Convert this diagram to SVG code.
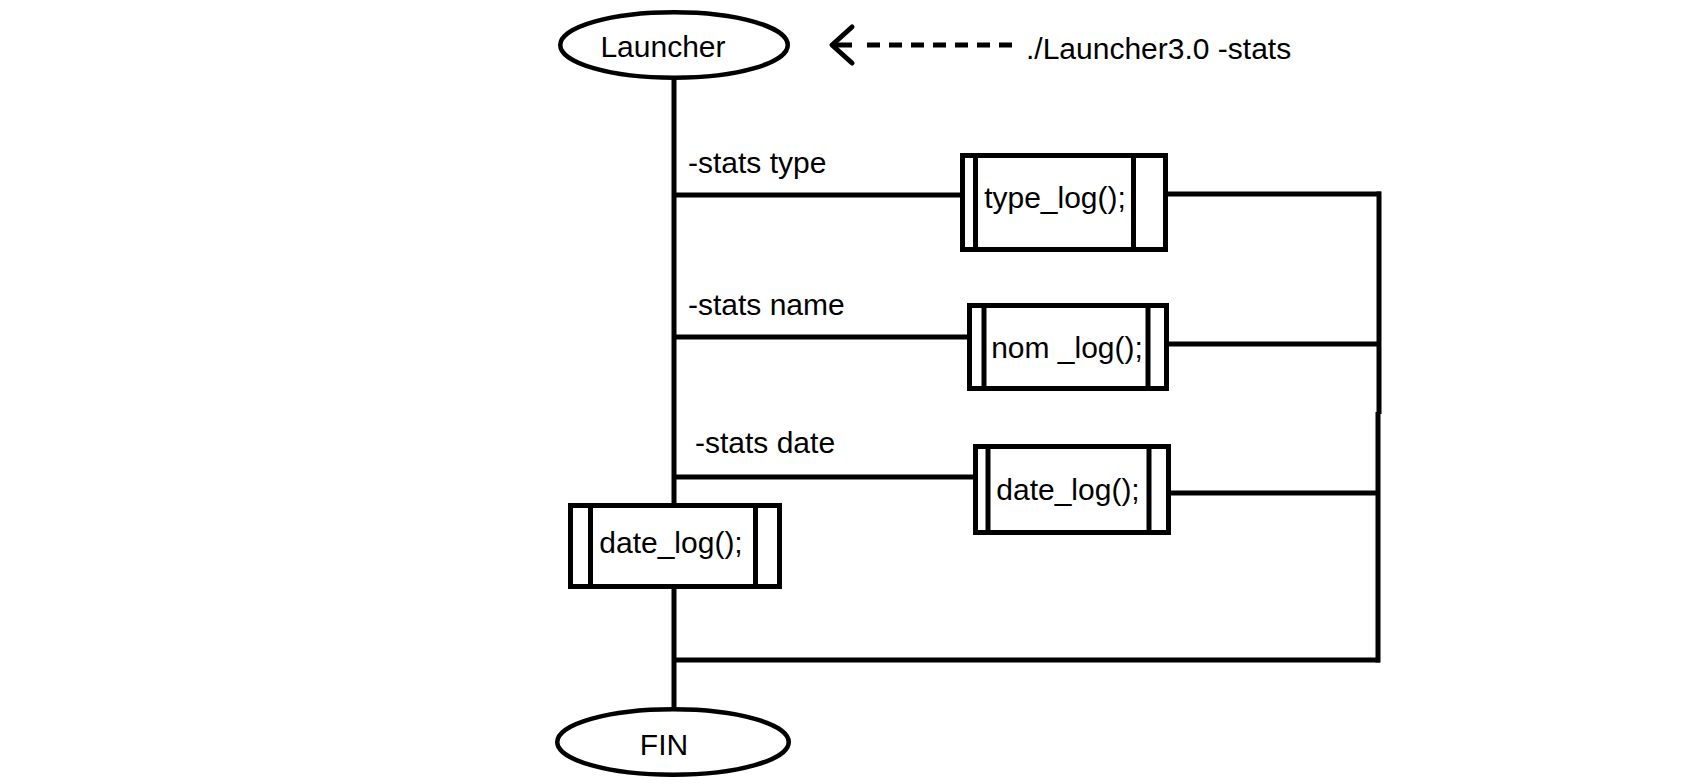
<svg xmlns="http://www.w3.org/2000/svg" width="1691" height="784" viewBox="0 0 1691 784">
<style>
  .bg { fill: #ffffff; }
  .term { fill: #ffffff; stroke: #000000; stroke-width: 4.5; }
  .proc { fill: #ffffff; stroke: #000000; stroke-width: 5; }
  .bar { stroke: #000000; stroke-width: 5; }
  .conn { fill: none; stroke: #000000; stroke-width: 5; }
  .dash { fill: none; stroke: #000000; stroke-width: 5; stroke-dasharray: 13 9; }
  .txt { font-family: "Liberation Sans", Arial, sans-serif; font-size: 30px; fill: #000000; }
  .mid { text-anchor: middle; }
</style>
<defs>
  <marker id="openArrow" markerUnits="userSpaceOnUse" viewBox="-26 -24 30 48" refX="0" refY="0" markerWidth="30" markerHeight="48" orient="auto">
    <path d="M-20,-18 L0,0 L-20,18" fill="none" stroke="#000000" stroke-width="5" stroke-linecap="round" stroke-linejoin="round"/>
  </marker>
</defs>
<rect class="bg" x="0" y="0" width="1691" height="784"/>

<g id="connectors">
  <line class="conn" x1="674" y1="78" x2="674" y2="503"/>
  <line class="conn" x1="674" y1="589" x2="674" y2="709"/>
  <line class="conn" x1="674" y1="195" x2="962" y2="195"/>
  <line class="conn" x1="674" y1="337" x2="969" y2="337"/>
  <line class="conn" x1="674" y1="477" x2="975" y2="477"/>
  <line class="conn" x1="1166" y1="194" x2="1381" y2="194"/>
  <line class="conn" x1="1167" y1="344" x2="1380" y2="344"/>
  <line class="conn" x1="1169" y1="493" x2="1380" y2="493"/>
  <line class="conn" x1="674" y1="660" x2="1380" y2="660"/>
  <line class="conn" x1="1379" y1="191.5" x2="1379" y2="414"/>
  <line class="conn" x1="1378" y1="412" x2="1378" y2="662.5"/>
  <line class="dash" x1="1012" y1="45" x2="858" y2="45"/>
  <line class="conn" x1="852" y1="45" x2="832" y2="45" marker-end="url(#openArrow)"/>
</g>

<g id="launcher">
  <ellipse class="term" cx="674" cy="45" rx="113.75" ry="32.75"/>
  <text class="txt mid" x="663" y="57">Launcher</text>
</g>

<g id="command">
  <text class="txt" x="1026" y="59">./Launcher3.0 -stats</text>
</g>

<g id="label-type">
  <text class="txt" x="688" y="173">-stats type</text>
</g>
<g id="label-name">
  <text class="txt" x="688" y="315">-stats name</text>
</g>
<g id="label-date">
  <text class="txt" x="695" y="453">-stats date</text>
</g>

<g id="type-log">
  <rect class="proc" x="962.5" y="155.5" width="203" height="94"/>
  <line class="bar" x1="975.5" y1="155.5" x2="975.5" y2="249.5"/>
  <line class="bar" x1="1133.5" y1="155.5" x2="1133.5" y2="249.5"/>
  <text class="txt mid" x="1055" y="208">type_log();</text>
</g>

<g id="nom-log">
  <rect class="proc" x="969.5" y="305.5" width="197" height="83"/>
  <line class="bar" x1="984" y1="305.5" x2="984" y2="388.5"/>
  <line class="bar" x1="1148" y1="305.5" x2="1148" y2="388.5"/>
  <text class="txt mid" x="1067" y="358">nom _log();</text>
</g>

<g id="date-log">
  <rect class="proc" x="975.5" y="446.5" width="193" height="86"/>
  <line class="bar" x1="988" y1="446.5" x2="988" y2="532.5"/>
  <line class="bar" x1="1149" y1="446.5" x2="1149" y2="532.5"/>
  <text class="txt mid" x="1068" y="500">date_log();</text>
</g>

<g id="date-log-main">
  <rect class="proc" x="570.5" y="505.5" width="209" height="81"/>
  <line class="bar" x1="590.5" y1="505.5" x2="590.5" y2="586.5"/>
  <line class="bar" x1="755.5" y1="505.5" x2="755.5" y2="589"/>
  <text class="txt mid" x="671" y="553">date_log();</text>
</g>

<g id="fin">
  <ellipse class="term" cx="673" cy="742" rx="115.75" ry="32.75"/>
  <text class="txt mid" x="664" y="755">FIN</text>
</g>
</svg>
